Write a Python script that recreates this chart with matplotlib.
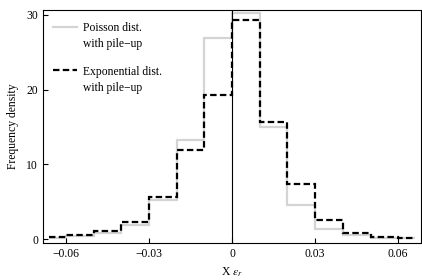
import matplotlib
matplotlib.use('Agg')
import matplotlib.pyplot as plt
import numpy as np

# bin edges and frequency densities
edges = [-0.066, -0.06, -0.05, -0.04, -0.03, -0.02, -0.01, 0.0,
         0.01, 0.02, 0.03, 0.04, 0.05, 0.06, 0.066]
poisson = [0.1, 0.4, 0.8, 1.9, 5.2, 13.25, 26.9, 30.2, 15.0, 4.55, 1.4, 0.5, 0.2, 0.1]
expon = [0.23, 0.5, 1.05, 2.3, 5.6, 11.9, 19.3, 29.3, 15.65, 7.3, 2.5, 0.76, 0.25, 0.13]
xticks = [-0.06, -0.03, 0, 0.03, 0.06]
yticks = [0, 10, 20, 30]
names = ['Poisson dist.', 'Exponential dist.']
second_line = 'with pile\u2212up'

plt.rcParams['font.family'] = ['Liberation Serif', 'DejaVu Serif']
plt.rcParams['mathtext.fontset'] = 'stix'
plt.rcParams['font.size'] = 8.4

fig = plt.figure(figsize=(4.22, 2.8), dpi=100)
ax = fig.add_axes([0.102, 0.133, 0.896, 0.831])

ax.stairs(poisson, edges, baseline=None, color='#d4d4d4', lw=1.6, label=names[0])
ax.stairs(expon, edges, baseline=None, color='black', lw=1.6,
          ls=(0, (2.9, 1.5)), label=names[1])
ax.axvline(0, color='black', lw=0.8)

ax.set_xlim(-0.0683, 0.0683)
ax.set_ylim(-0.5, 30.65)
ax.set_xticks(xticks)
ax.set_xticklabels(['\u22120.06', '\u22120.03', '0', '0.03', '0.06'])
ax.set_yticks(yticks)
ax.tick_params(direction='in', length=3.5, width=0.8, top=False, right=False)
ax.set_xlabel('X $\\epsilon_r$', labelpad=4)
ax.set_ylabel('Frequency density', labelpad=5)

leg = ax.legend(loc='upper left', bbox_to_anchor=(0.014, 0.967), frameon=False,
                handlelength=2.05, labelspacing=2.67, borderaxespad=0,
                handletextpad=0.5)

# second line of each legend label, sitting under the first line
fig.canvas.draw()
inv = fig.transFigure.inverted()
for t in leg.get_texts():
    bb = t.get_window_extent()
    x0, y0 = inv.transform((bb.x0, bb.y0 - 16))
    fig.text(x0, y0, second_line, ha='left', va='bottom')

fig.savefig('out.png', dpi=100)
